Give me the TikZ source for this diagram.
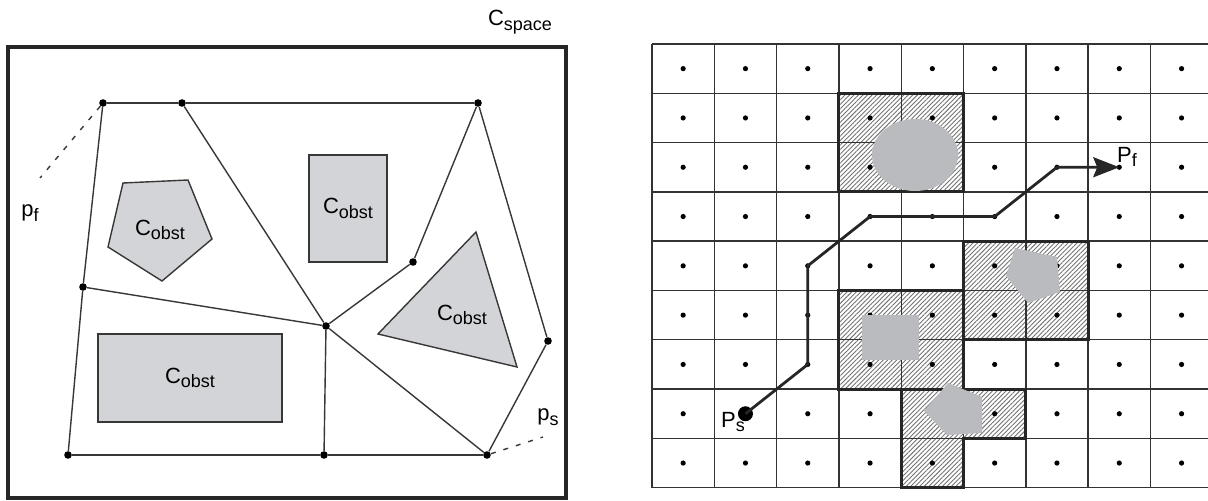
\documentclass[tikz,border=0pt]{standalone}
\usepackage{fontspec}
\setmainfont{Liberation Sans}
\usetikzlibrary{arrows.meta,patterns.meta}
\usepackage{xcolor}
\definecolor{obstgray}{RGB}{211,212,215}
\definecolor{blobgray}{RGB}{186,187,191}
\definecolor{edgegray}{RGB}{55,55,55}
\newcommand{\lowsub}[1]{\raisebox{-2.3pt}{\fontsize{9}{10}\selectfont #1}}

\begin{document}
\begin{tikzpicture}[
    x=0.5pt, y=-0.5pt,
    lbl/.style={inner sep=0pt, font=\fontsize{11}{13}\selectfont},
    frame/.style={draw=black!85, line width=2pt},
    obst/.style={draw=edgegray, fill=obstgray, line width=0.7pt},
    obstbox/.style={obst, rectangle, inner sep=0pt, font=\fontsize{11}{13}\selectfont},
    vtx/.style={circle, fill=black, inner sep=0pt, minimum size=3.8pt},
    road/.style={draw=edgegray, line width=0.7pt},
    link/.style={dash pattern=on 2.5pt off 4pt, draw=edgegray, line width=0.7pt},
    gridline/.style={draw=black!80, line width=0.7pt},
    hatch/.style={pattern={Lines[angle=45,distance=1.6pt,line width=0.45pt]}, pattern color=black!55},
    groupline/.style={draw=black!85, line width=1.5pt},
    cdot/.style={circle, fill=black, inner sep=0pt, minimum size=2.6pt},
    blob/.style={fill=blobgray},
    startdot/.style={circle, fill=black, inner sep=0pt, minimum size=7.5pt},
    route/.style={draw=black!85, line width=1.4pt, line join=round}
]
\useasboundingbox (0,0) rectangle (1208,501);

% configuration space with roadmap
\draw[frame] (8,47) rectangle (566,498);
\node[lbl] (cspace) at (520,22) {C\lowsub{space}};

\draw[obst] (123,183) -- (188,180) -- (212,239) -- (162,281) -- (108,247) -- cycle;
\node[lbl] (o1) at (160,230) {C\lowsub{obst}};
\node[obstbox, minimum width=39pt, minimum height=53.5pt] (o2) at (348,208.5) {C\lowsub{obst}};
\draw[obst] (476,232) -- (517,367) -- (378,334) -- cycle;
\node[lbl] (o3) at (462,315) {C\lowsub{obst}};
\node[obstbox, minimum width=92pt, minimum height=44pt] (o4) at (190,378) {C\lowsub{obst}};

\node[vtx] (r1) at (103,103) {};
\node[vtx] (r2) at (182,103) {};
\node[vtx] (r3) at (478,103) {};
\node[vtx] (r4) at (83,287) {};
\node[vtx] (r5) at (326,326) {};
\node[vtx] (r6) at (413,262) {};
\node[vtx] (r7) at (68,455) {};
\node[vtx] (r8) at (324,455) {};
\node[vtx] (r9) at (487,455) {};
\node[vtx] (r10) at (548,341) {};

\draw[road] (r1) -- (r2) -- (r3);
\draw[road] (r1) -- (r4) -- (r7);
\draw[road] (r2) -- (r5);
\draw[road] (r4) -- (r5);
\draw[road] (r5) -- (r6) -- (r3);
\draw[road] (r3) -- (r10) -- (r9);
\draw[road] (r5) -- (r8);
\draw[road] (r5) -- (r9);
\draw[road] (r7) -- (r8) -- (r9);

\coordinate (pfend) at (40,178);
\coordinate (psend) at (543,437);
\draw[link] (r1) -- (pfend);
\draw[link] (r9) -- (psend);
\node[lbl] (pf) at (30,213) {p\lowsub{f}};
\node[lbl] (ps) at (548,417) {p\lowsub{s}};

% cell decomposition
\foreach \i in {0,...,9}
  \foreach \j in {0,...,9}
    \coordinate (g-\i-\j) at ({652+62.3*\i},{44+49.3*\j});

\foreach \c/\r in {3/1,4/1,3/2,4/2,5/4,6/4,3/5,4/5,5/5,6/5,3/6,4/6,4/7,5/7,4/8}
  \fill[hatch] (g-\c-\r) rectangle ++(62.3,49.3);

\foreach \i in {0,...,9} {
  \draw[gridline] (g-\i-0) -- (g-\i-9);
  \draw[gridline] (g-0-\i) -- (g-9-\i);
}

\foreach \i in {0,...,8}
  \foreach \j in {0,...,8}
    \node[cdot] (d-\i-\j) at ({652+62.3*(\i+0.5)},{44+49.3*(\j+0.5)}) {};

\draw[groupline] (g-3-1) rectangle (g-5-3);
\draw[groupline] (g-3-5) rectangle (g-5-7);
\draw[groupline] (g-5-4) rectangle (g-7-6);
\draw[groupline] (g-4-7) -- (g-6-7) -- (g-6-8) -- (g-5-8) -- (g-5-9) -- (g-4-9) -- cycle;

\fill[blob] (915,155) ellipse (43 and 36);
\fill[blob] (862,315) rectangle (919,360);
\fill[blob] (1015,248) -- (1057,257) -- (1060,292) -- (1028,303) -- (1006,276) -- cycle;
\fill[blob] (948,383) -- (982,397) -- (982,433) -- (947,435) -- (924,411) -- cycle;

\node[startdot] (start) at (d-1-7) {};
\draw[route, -{Stealth[length=13pt,width=10pt,inset=2pt]}] (start.center) -- (d-2-6.center) -- (d-2-5.center)
  -- (d-2-4.center) -- (d-3-3.center) -- (d-5-3.center) -- (d-6-2.center) -- (d-7-2.center);
\node[lbl] (startlbl) at (733,422) {P\lowsub{s}};
\node[lbl] (goallbl) at (1127,157) {P\lowsub{f}};

\end{tikzpicture}
\end{document}
